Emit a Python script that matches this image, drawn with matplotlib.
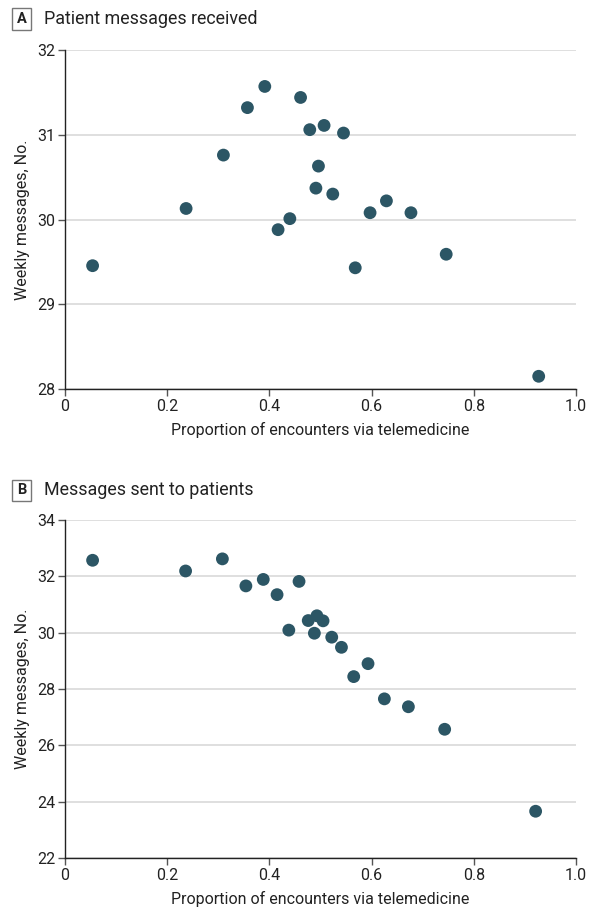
import matplotlib
matplotlib.use("Agg")
import matplotlib.pyplot as plt
from matplotlib.patches import Rectangle

plt.rcParams['font.family'] = ['Roboto', 'DejaVu Sans']

# Panel A data
xa = [0.054, 0.237, 0.310, 0.357, 0.391, 0.461, 0.479, 0.507, 0.545, 0.496,
      0.491, 0.524, 0.440, 0.417, 0.568, 0.597, 0.629, 0.677, 0.746, 0.927]
ya = [29.455, 30.13, 30.76, 31.32, 31.57, 31.44, 31.06, 31.11, 31.02, 30.63,
      30.37, 30.30, 30.01, 29.88, 29.43, 30.08, 30.22, 30.08, 29.59, 28.15]
# Panel B data
xb = [0.054, 0.236, 0.308, 0.354, 0.388, 0.458, 0.415, 0.493, 0.476, 0.505,
      0.438, 0.488, 0.522, 0.541, 0.593, 0.565, 0.625, 0.672, 0.743, 0.921]
yb = [32.57, 32.19, 32.62, 31.66, 31.89, 31.82, 31.35, 30.60, 30.43, 30.42,
      30.09, 29.98, 29.84, 29.48, 28.90, 28.44, 27.65, 27.37, 26.57, 23.66]

xticks = [0, 0.2, 0.4, 0.6, 0.8, 1.0]
xticklabels = ["0", "0.2", "0.4", "0.6", "0.8", "1.0"]
yticks_a = [28, 29, 30, 31, 32]
yticks_b = [22, 24, 26, 28, 30, 32, 34]
titles = ["Patient messages received", "Messages sent to patients"]
letters = ["A", "B"]
xlabel = "Proportion of encounters via telemedicine"
ylabel = "Weekly messages, No."

W, H = 595, 911
fig = plt.figure(figsize=(W / 100, H / 100), dpi=100)

dot_color = "#2c5665"
FS = 11.5

def make_panel(top_px, bot_px, x, y, yticks, title, letter, title_y_px):
    ax = fig.add_axes([65 / W, 1 - bot_px / H, 511 / W, (bot_px - top_px) / H])
    ax.scatter(x, y, s=85, color=dot_color, edgecolors='none', zorder=3, clip_on=False)
    ax.set_xlim(0, 1.0)
    ax.set_ylim(yticks[0], yticks[-1])
    ax.set_xticks(xticks)
    ax.set_xticklabels(xticklabels)
    ax.set_yticks(yticks)
    ax.set_yticklabels([str(t) for t in yticks])
    ax.grid(axis='y', color='#dcdcdc', lw=1.3, zorder=0)
    ax.set_axisbelow(True)
    for s in ['top', 'right']:
        ax.spines[s].set_visible(False)
    for s in ['left', 'bottom']:
        ax.spines[s].set_color('#222222')
        ax.spines[s].set_linewidth(1.0)
    ax.tick_params(axis='both', direction='out', length=5, width=1.0, color='#555555',
                   labelsize=FS, labelcolor='#222222', pad=2)
    ax.set_xlabel(xlabel, fontsize=FS, color='#222222', labelpad=6)
    ax.set_ylabel(ylabel, fontsize=FS, color='#222222', labelpad=5)
    ty = 1 - title_y_px / H
    fig.text(21.5 / W, ty, letter, fontsize=10.5, fontweight='bold', ha='center', va='center',
             color='#222222')
    fig.patches.append(Rectangle((12 / W, 1 - (title_y_px + 10.5) / H), 19 / W, 21 / H,
                                 transform=fig.transFigure, fill=False, edgecolor='#777777',
                                 lw=1.0))
    fig.text(44 / W, ty, title, fontsize=12.9, ha='left', va='center', color='#222222')
    return ax

make_panel(50, 389, xa, ya, yticks_a, titles[0], letters[0], 19)
make_panel(520, 858, xb, yb, yticks_b, titles[1], letters[1], 490)

fig.savefig("out.png", dpi=100)
